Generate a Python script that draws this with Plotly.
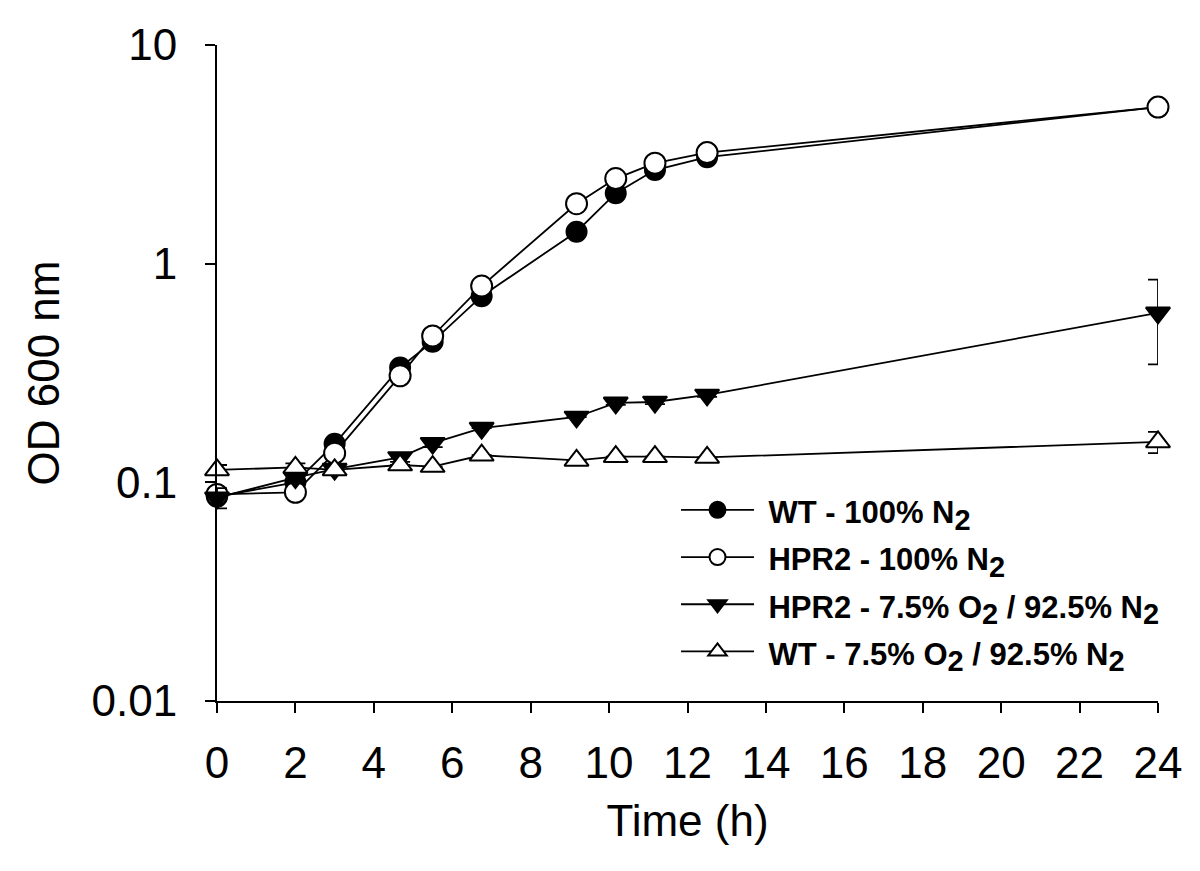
import plotly.graph_objects as go

time_h = [0, 2, 3, 4.67, 5.5, 6.75, 9.17, 10.17, 11.17, 12.5, 24]
wt_n2 = [0.086, 0.100, 0.150, 0.335, 0.440, 0.710, 1.40, 2.10, 2.68, 3.07, 5.2]
hpr2_n2 = [0.088, 0.090, 0.136, 0.307, 0.467, 0.790, 1.88, 2.45, 2.88, 3.22, 5.2]
hpr2_o2 = [0.085, 0.105, 0.115, 0.130, 0.151, 0.177, 0.199, 0.231, 0.233, 0.251, 0.596]
wt_o2 = [0.114, 0.117, 0.114, 0.120, 0.118, 0.133, 0.126, 0.131, 0.131, 0.130, 0.153]

wt_n2_err = [0.004, 0, 0, 0, 0, 0, 0, 0, 0, 0, 0]
hpr2_n2_err = [0.004, 0, 0, 0, 0, 0, 0, 0, 0, 0, 0]
hpr2_o2_err = [0.009, 0.006, 0.005, 0.006, 0.006, 0, 0, 0.005, 0.005, 0.005, 0.25]
wt_o2_err = [0.006, 0.005, 0, 0, 0, 0, 0, 0, 0, 0, 0.017]

SUB = '<sub><span style="font-size:29px">2</span></sub>'
names_raw = [
    "WT - 100% N" + SUB,
    "HPR2 - 100% N" + SUB,
    "HPR2 - 7.5% O" + SUB + " / 92.5% N" + SUB,
    "WT - 7.5% O" + SUB + " / 92.5% N" + SUB,
]
names = ['\u00a0<span style="font-size:31px"><b>' + n + "</b></span>" for n in names_raw]

y_ticks = [0.01, 0.1, 1, 10]
y_tick_text = ["0.01", "0.1", "1", "10"]
x_ticks = list(range(0, 25, 2))

FONT = "Liberation Sans, Arial, sans-serif"

fig = go.Figure()

series = [
    (wt_n2, wt_n2_err, "circle", "black", 20),
    (hpr2_n2, hpr2_n2_err, "circle", "white", 21),
    (hpr2_o2, hpr2_o2_err, "triangle-down", "black", 21),
    (wt_o2, wt_o2_err, "triangle-up", "white", 21),
]

for (vals, err, sym, fill, size), name in zip(series, names):
    fig.add_trace(go.Scatter(
        x=time_h, y=vals, name=name, mode="lines+markers",
        cliponaxis=False,
        line=dict(color="black", width=1.8),
        marker=dict(symbol=sym, size=size, color=fill,
                    line=dict(color="black", width=2)),
        error_y=dict(type="data", array=err, visible=True,
                     color="black", thickness=1.8, width=10),
    ))

fig.update_layout(
    width=1200, height=871,
    paper_bgcolor="white", plot_bgcolor="white",
    margin=dict(l=209, r=50, t=37, b=178),
    font=dict(family=FONT, color="black"),
    showlegend=True,
    legend=dict(
        x=0.4878, y=0.335, xanchor="left", yanchor="top",
        bgcolor="rgba(0,0,0,0)", borderwidth=0,
        font=dict(size=34, family=FONT, color="black"),
        tracegroupgap=0, itemwidth=73,
    ),
    xaxis=dict(
        range=[0, 24], tickvals=x_ticks, ticks="outside", ticklen=10,
        tickwidth=2, tickcolor="black", showline=True, linecolor="black",
        linewidth=2, showgrid=False, zeroline=False, ticklabelstandoff=12,
        tickfont=dict(size=44, family=FONT, color="black"),
        title=dict(text="Time (h)", font=dict(size=44, family=FONT, color="black"),
                   standoff=19),
    ),
    yaxis=dict(
        type="log", range=[-2, 1], tickvals=y_ticks, ticktext=y_tick_text,
        ticks="outside", ticklen=10, tickwidth=2, tickcolor="black",
        showline=True, linecolor="black", linewidth=2, showgrid=False,
        zeroline=False, ticklabelstandoff=19,
        tickfont=dict(size=44, family=FONT, color="black"),
        title=dict(text="OD 600 nm", font=dict(size=44, family=FONT, color="black"),
                   standoff=18),
    ),
)

fig.write_html("out.html")
